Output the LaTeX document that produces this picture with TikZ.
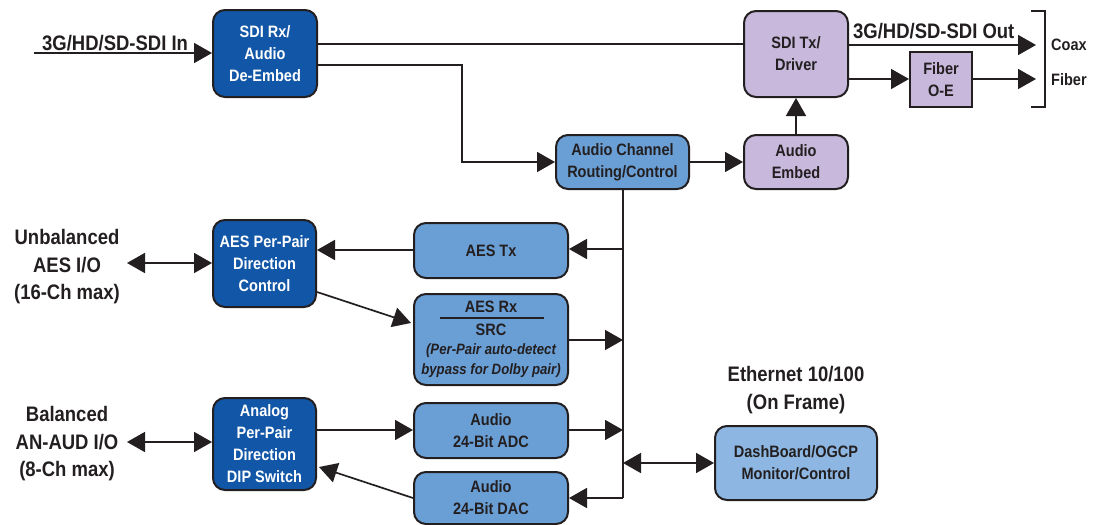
\documentclass[tikz,border=0pt]{standalone}
\usepackage{fontspec}
\setmainfont{Liberation Sans}[FakeStretch=0.88]
\usetikzlibrary{arrows.meta,calc}
\definecolor{dkblue}{HTML}{1257A7}
\definecolor{mdblue}{HTML}{6A9FD6}
\definecolor{ltblue}{HTML}{8DB7E2}
\definecolor{lav}{HTML}{C7B8DC}
\definecolor{ink}{HTML}{231F20}
\begin{document}
\begin{tikzpicture}[x=1pt,y=-1pt,
  box/.style={rounded corners=12pt,draw=ink,line width=2pt,align=center,inner sep=0pt,
    font=\bfseries\fontsize{16.5}{22}\selectfont,text=ink},
  dkbox/.style={box,fill=dkblue,text=white},
  mdbox/.style={box,fill=mdblue},
  ltbox/.style={box,fill=ltblue},
  lavbox/.style={box,fill=lav},
  conn/.style={draw=ink,line width=1.7pt},
  arr/.style={conn,-{Triangle[length=18pt,width=20pt]}},
  darr/.style={conn,{Triangle[length=18pt,width=20pt]}-{Triangle[length=18pt,width=20pt]}},
  biglbl/.style={font=\bfseries\fontsize{21}{27.5}\selectfont,text=ink,align=center,inner sep=0pt},
  smlbl/.style={font=\bfseries\fontsize{16.5}{22}\selectfont,text=ink,inner sep=0pt},
  itlbl/.style={font=\bfseries\itshape\fontsize{15}{20}\selectfont,text=ink,inner sep=0pt}
]
\useasboundingbox (0,0) rectangle (1104,525);

% boxes
\node[dkbox,minimum width=104pt,minimum height=87pt] (rx) at (265,53.5) {SDI Rx/\\Audio\\De-Embed};
\node[lavbox,minimum width=104pt,minimum height=86pt] (tx) at (796,54) {SDI Tx/\\Driver};
\node[lavbox,rounded corners=0pt,minimum width=62pt,minimum height=55pt] (fib) at (941,79.5) {Fiber\\O-E};
\node[mdbox,minimum width=133pt,minimum height=54pt] (ach) at (622.5,162) {Audio Channel\\Routing/Control};
\node[lavbox,minimum width=104pt,minimum height=54pt] (emb) at (796,162) {Audio\\Embed};
\node[dkbox,minimum width=103pt,minimum height=87pt] (aespp) at (264.5,263.5) {AES Per-Pair\\Direction\\Control};
\node[mdbox,minimum width=154pt,minimum height=55pt] (aestx) at (491,250.5) {AES Tx};
\node[mdbox,minimum width=154pt,minimum height=91pt] (aesrx) at (491,339.5) {};
\node[dkbox,minimum width=103pt,minimum height=92pt] (ana) at (264.5,444) {Analog\\Per-Pair\\Direction\\DIP Switch};
\node[mdbox,minimum width=154pt,minimum height=55pt] (adc) at (491,430.5) {Audio\\24-Bit ADC};
\node[mdbox,minimum width=154pt,minimum height=52pt] (dac) at (491,498) {Audio\\24-Bit DAC};
\node[ltbox,minimum width=162pt,minimum height=74pt] (dash) at (796,463) {DashBoard/OGCP\\Monitor/Control};

% AES Rx inner text
\node[smlbl] (rxt1) at (491,307) {AES Rx};
\draw[conn,line width=1.5pt] (440,318) -- (544,318);
\node[smlbl] (rxt2) at (491,330) {SRC};
\node[itlbl] (rxt3) at (491,351) {(Per-Pair auto-detect};
\node[itlbl] (rxt4) at (491,371) {bypass for Dolby pair)};

% labels
\node[biglbl,anchor=base west] (inlbl) at (42,50) {3G/HD/SD-SDI In};
\node[biglbl,anchor=base west] (outlbl) at (853,38) {3G/HD/SD-SDI Out};
\node[smlbl,anchor=west] (coax) at (1051,45) {Coax};
\node[smlbl,anchor=west] (fibl) at (1051,80) {Fiber};
\node[biglbl] (unb) at (67,267) {Unbalanced\\AES I/O\\(16-Ch max)};
\node[biglbl] (bal) at (67,444) {Balanced\\AN-AUD I/O\\(8-Ch max)};
\node[biglbl] (eth) at (796,390) {Ethernet 10/100\\(On Frame)};

% coordinates
\coordinate (inS) at (34,53);
\coordinate (coaxE) at (1036,45);
\coordinate (fibE) at (1036,79);
\coordinate (bend) at (462,65);
\coordinate (busB) at (623,498);
\coordinate (aesL) at (127,263);
\coordinate (balL) at (127,442);

% connectors top
\draw[arr] (inS) -- (rx.west |- inS);
\draw[conn] (rx.east |- 0,44) -- (tx.west |- 0,44);
\draw[arr] (rx.east |- bend) -- (bend) -- (bend |- ach.west) -- (ach.west);
\draw[arr] (ach.east) -- (emb.west);
\draw[arr] (emb.north) -- (tx.south);
\draw[arr] (tx.east |- coaxE) -- (coaxE);
\draw[arr] (tx.east |- fibE) -- (fib.west |- fibE);
\draw[arr] (fib.east |- fibE) -- (fibE);
\draw[conn,line width=1.5pt] (1031,11) -- (1045,11) -- (1045,107) -- (1031,107);

% bus
\draw[conn] (ach.south -| busB) -- (busB);
\draw[arr] (busB |- 0,249) -- (aestx.east |- 0,249);
\draw[arr] (aestx.west |- 0,250) -- (aespp.east |- 0,250);
\draw[arr] ($(aespp.east)+(0,28.5)$) -- ($(aesrx.west)+(-2,-16.5)$);
\draw[arr] (aesrx.east |- 0,340) -- (busB |- 0,340);
\draw[arr] (ana.east |- 0,430) -- (adc.west |- 0,430);
\draw[arr] (adc.east |- 0,430) -- (busB |- 0,430);
\draw[arr] (busB) -- (dac.east |- busB);
\draw[arr] (dac.west) -- ($(ana.east)+(2,23)$);
\draw[darr] (busB |- dash.west) -- (dash.west);

% left I/O
\draw[darr] (aesL) -- (aespp.west |- aesL);
\draw[darr] (balL) -- (ana.west |- balL);
\end{tikzpicture}
\end{document}
